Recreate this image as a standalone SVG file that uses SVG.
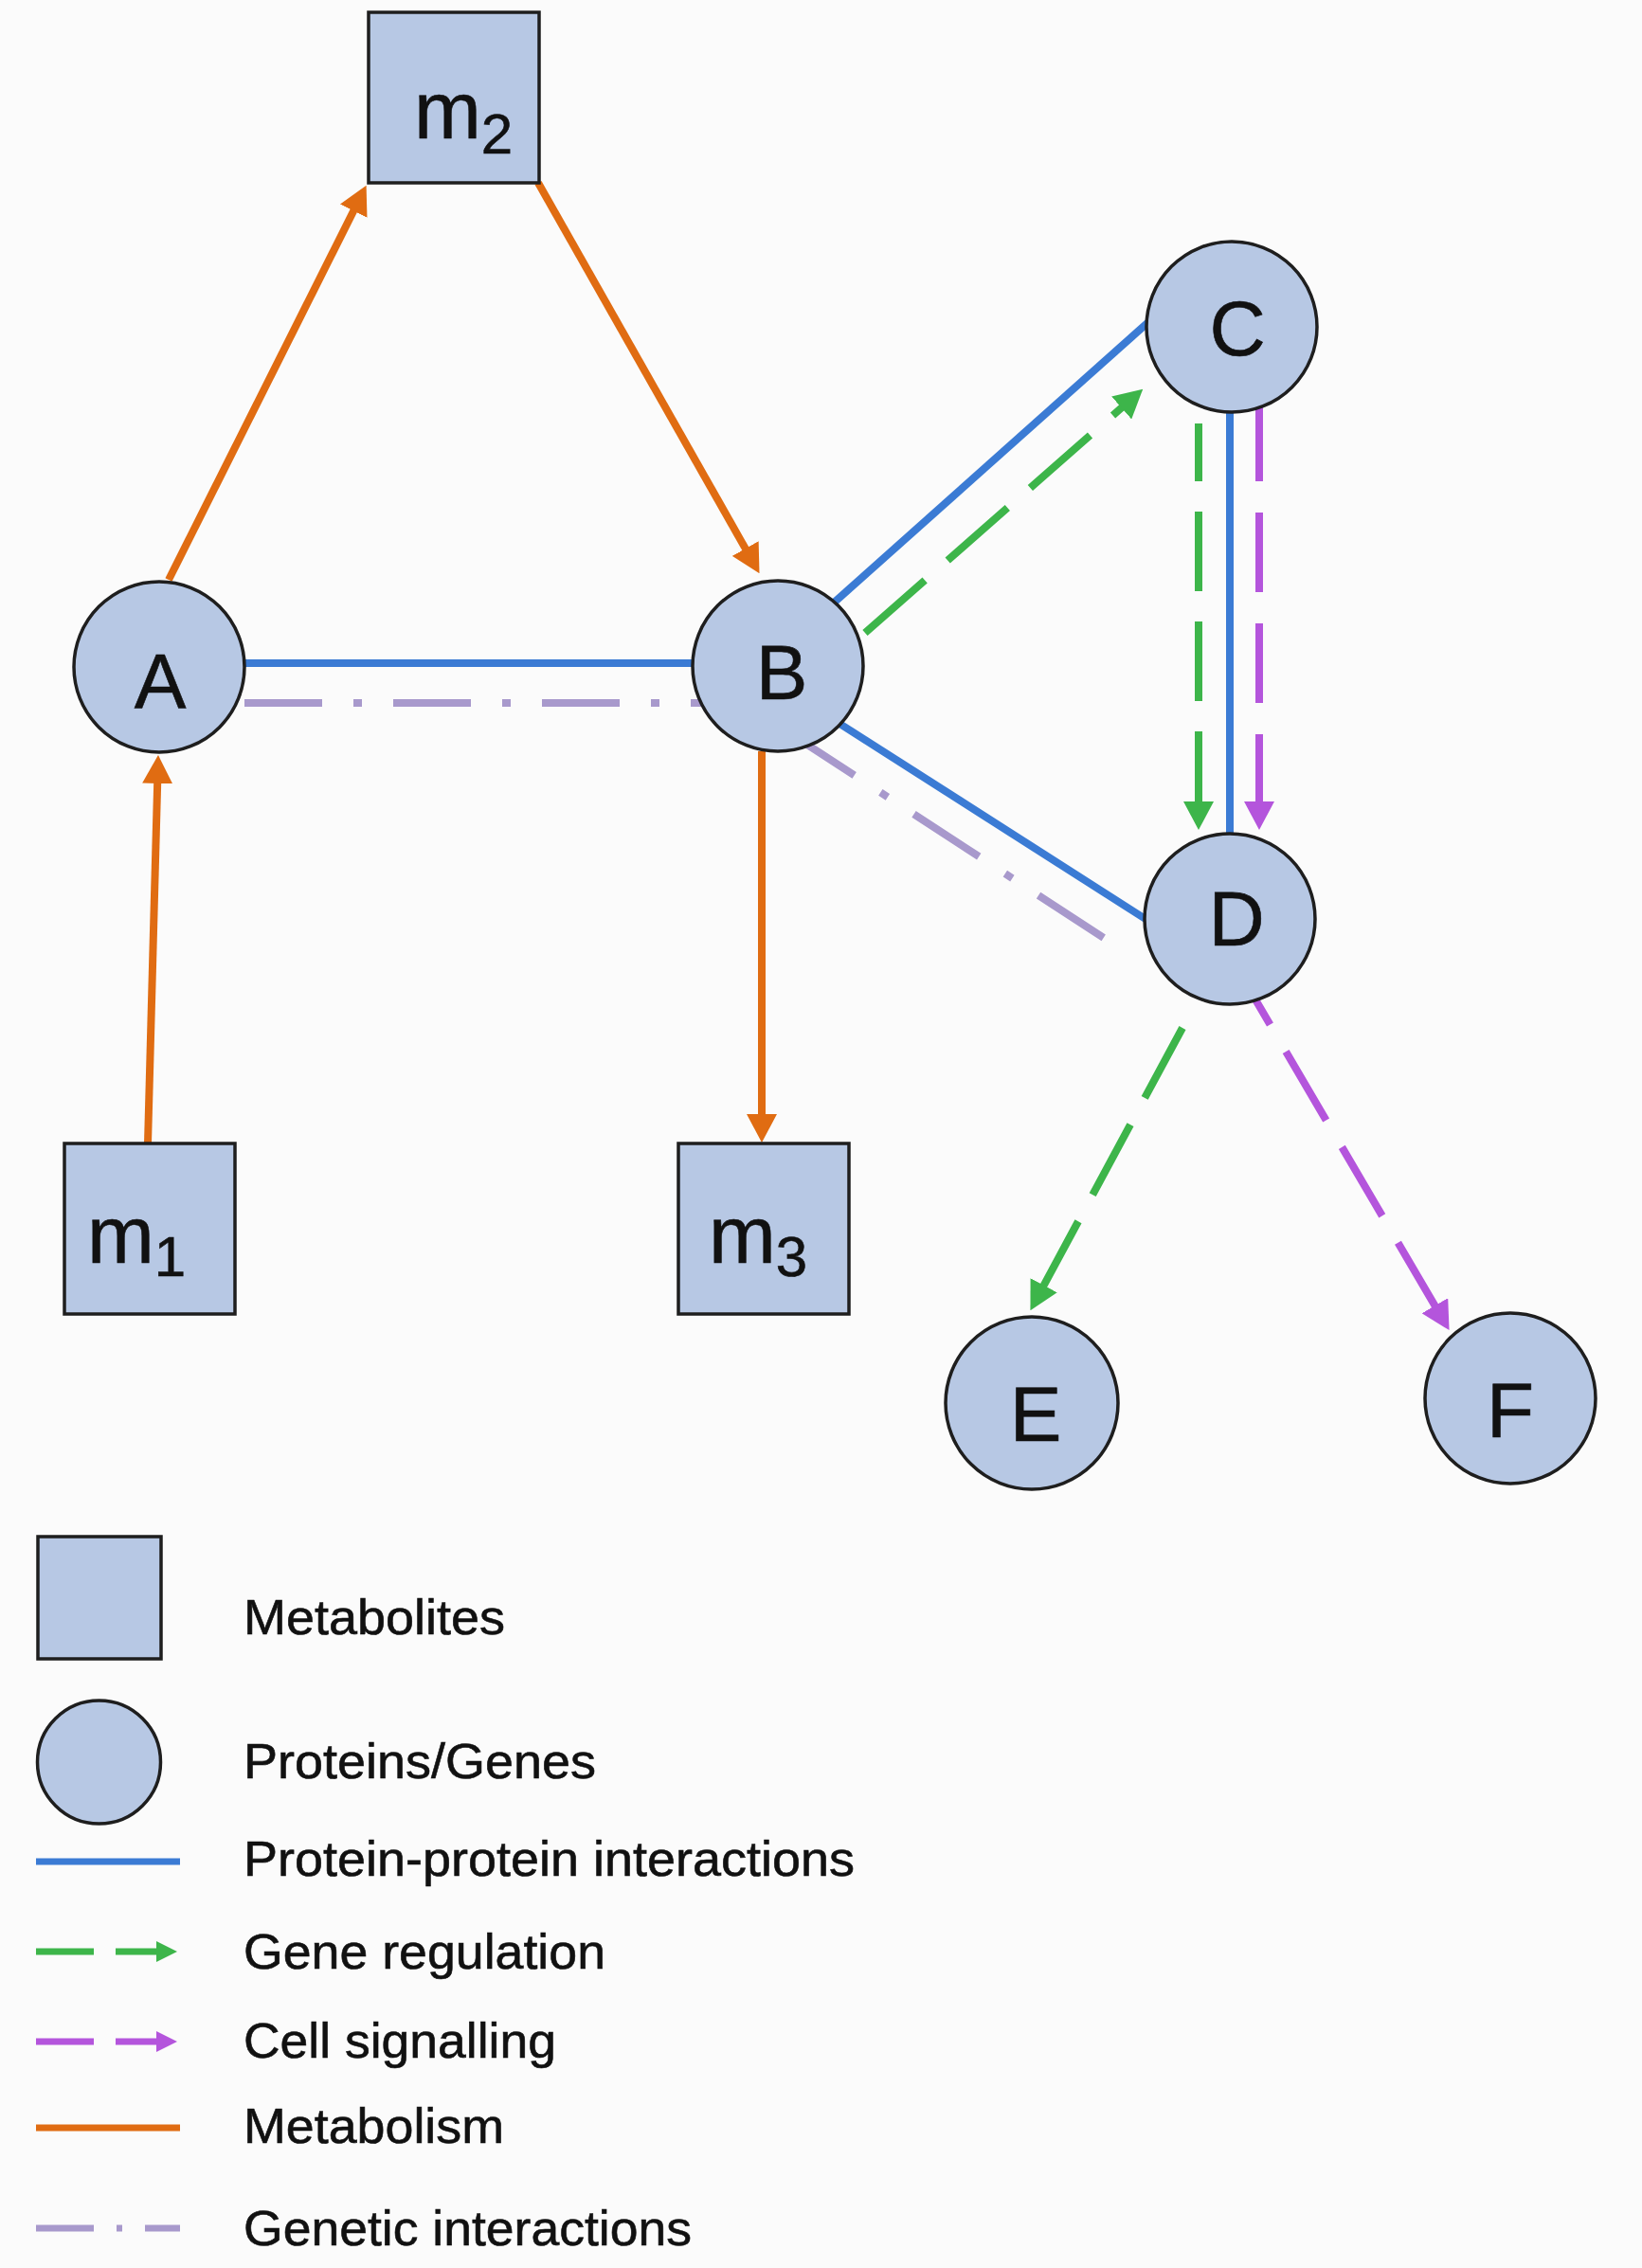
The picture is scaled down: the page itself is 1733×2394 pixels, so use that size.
<svg xmlns="http://www.w3.org/2000/svg" width="1733" height="2394" viewBox="0 0 1733 2394">
  <style>
    .node { fill: #b7c8e4; stroke: #1e1e1e; stroke-width: 3.5; }
    .lbl { font-family: "Liberation Sans", Arial, sans-serif; fill: #111; stroke: #111; stroke-width: 0.6; }
    .letter { font-size: 82px; text-anchor: middle; }
    .met { font-size: 85px; }
    .sub { font-size: 60px; }
    .leg { font-size: 52px; }
    .c { fill: none; stroke-width: 8; stroke-linecap: butt; }
    .ppi { stroke: #3b7bd4; }
    .metab { stroke: #e06c12; }
    .greg { stroke: #3db54a; stroke-dasharray: 84 32; }
    .sig { stroke: #b455dc; stroke-dasharray: 84 33; }
    .gen { stroke: #a899cc; stroke-dasharray: 82 33 9 33; }
    .lg { fill: none; stroke-width: 7; }
  </style>
  <defs>
    <marker id="ah-orange" markerUnits="userSpaceOnUse" viewBox="0 0 30 32" refX="1" refY="16" markerWidth="30" markerHeight="32" orient="auto">
      <path d="M0,0 L30,16 L0,32 z" fill="#e06c12"/>
    </marker>
    <marker id="ah-green" markerUnits="userSpaceOnUse" viewBox="0 0 30 32" refX="1" refY="16" markerWidth="30" markerHeight="32" orient="auto">
      <path d="M0,0 L30,16 L0,32 z" fill="#3db54a"/>
    </marker>
    <marker id="ah-purple" markerUnits="userSpaceOnUse" viewBox="0 0 30 32" refX="1" refY="16" markerWidth="30" markerHeight="32" orient="auto">
      <path d="M0,0 L30,16 L0,32 z" fill="#b455dc"/>
    </marker>
    <marker id="ah-green-s" markerUnits="userSpaceOnUse" viewBox="0 0 22 22" refX="1" refY="11" markerWidth="22" markerHeight="22" orient="auto">
      <path d="M0,0 L22,11 L0,22 z" fill="#3db54a"/>
    </marker>
    <marker id="ah-purple-s" markerUnits="userSpaceOnUse" viewBox="0 0 22 22" refX="1" refY="11" markerWidth="22" markerHeight="22" orient="auto">
      <path d="M0,0 L22,11 L0,22 z" fill="#b455dc"/>
    </marker>
  </defs>

  <rect x="0" y="0" width="1733" height="2394" fill="#fbfbfb"/>

  <!-- connectors -->
  <g id="connectors">
    <!-- protein-protein interactions -->
    <line class="c ppi" x1="168" y1="700" x2="821" y2="700"/>
    <line class="c ppi" x1="878" y1="638" x2="1212" y2="340"/>
    <line class="c ppi" x1="880" y1="760" x2="1212" y2="972"/>
    <line class="c ppi" x1="1298" y1="345" x2="1298" y2="970"/>
    <!-- genetic interactions -->
    <line class="c gen" x1="258" y1="742" x2="742" y2="742"/>
    <line class="c gen" x1="833" y1="773.6" x2="1168" y2="992"/>
    <!-- metabolism -->
    <line class="c metab" x1="178" y1="612" x2="373.6" y2="221.8" marker-end="url(#ah-orange)"/>
    <line class="c metab" x1="568" y1="193" x2="787.2" y2="579.9" marker-end="url(#ah-orange)"/>
    <line class="c metab" x1="156" y1="1207" x2="166.2" y2="826" marker-end="url(#ah-orange)"/>
    <line class="c metab" x1="804" y1="793" x2="804" y2="1177" marker-end="url(#ah-orange)"/>
    <!-- gene regulation -->
    <line class="c greg" x1="913" y1="668" x2="1184.4" y2="429.8" marker-end="url(#ah-green)"/>
    <line class="c greg" x1="1265" y1="447" x2="1265" y2="847" stroke-dasharray="86 30" stroke-dashoffset="23" marker-end="url(#ah-green)"/>
    <line class="c greg" x1="1248" y1="1085" x2="1101.2" y2="1357.6" marker-end="url(#ah-green)"/>
    <!-- cell signalling -->
    <line class="c sig" x1="1329" y1="430" x2="1329" y2="847" stroke-dasharray="86 30" stroke-dashoffset="6" marker-end="url(#ah-purple)"/>
    <line class="c sig" x1="1298" y1="1009" x2="1514.9" y2="1379.1" marker-end="url(#ah-purple)"/>
  </g>

  <!-- metabolites -->
  <g id="m2">
    <rect class="node" x="389" y="13" width="180" height="180"/>
    <text class="lbl met" x="437" y="146">m<tspan class="sub" dy="16">2</tspan></text>
  </g>
  <g id="m1">
    <rect class="node" x="68" y="1207" width="180" height="180"/>
    <text class="lbl met" x="92" y="1333">m<tspan class="sub" dy="14">1</tspan></text>
  </g>
  <g id="m3">
    <rect class="node" x="716" y="1207" width="180" height="180"/>
    <text class="lbl met" x="748" y="1333">m<tspan class="sub" dy="14">3</tspan></text>
  </g>

  <!-- proteins / genes -->
  <g id="A">
    <circle class="node" cx="168" cy="704" r="90"/>
    <text class="lbl letter" x="169" y="747">A</text>
  </g>
  <g id="B">
    <circle class="node" cx="821" cy="703" r="90"/>
    <text class="lbl letter" x="825" y="738">B</text>
  </g>
  <g id="C">
    <circle class="node" cx="1300" cy="345" r="90"/>
    <text class="lbl letter" x="1306" y="375">C</text>
  </g>
  <g id="D">
    <circle class="node" cx="1298" cy="970" r="90"/>
    <text class="lbl letter" x="1305" y="998">D</text>
  </g>
  <g id="E">
    <circle class="node" cx="1089" cy="1481" r="91"/>
    <text class="lbl letter" x="1093" y="1521">E</text>
  </g>
  <g id="F">
    <circle class="node" cx="1594" cy="1476" r="90"/>
    <text class="lbl letter" x="1594" y="1517">F</text>
  </g>

  <!-- legend -->
  <g id="legend">
    <rect class="node" x="40" y="1622" width="130" height="129"/>
    <circle class="node" cx="104.5" cy="1860" r="65"/>
    <line class="lg" stroke="#3b7bd4" x1="38" y1="1965" x2="190" y2="1965"/>
    <line class="lg" stroke="#3db54a" x1="38" y1="2060" x2="99" y2="2060"/>
    <line class="lg" stroke="#3db54a" x1="122" y1="2060" x2="166" y2="2060" marker-end="url(#ah-green-s)"/>
    <line class="lg" stroke="#b455dc" x1="38" y1="2155" x2="99" y2="2155"/>
    <line class="lg" stroke="#b455dc" x1="122" y1="2155" x2="166" y2="2155" marker-end="url(#ah-purple-s)"/>
    <line class="lg" stroke="#e06c12" x1="38" y1="2246" x2="190" y2="2246"/>
    <line class="lg" stroke="#a899cc" x1="38" y1="2352" x2="190" y2="2352" stroke-dasharray="61 24 6 24"/>
    <text class="lbl leg" x="257" y="1725" textLength="276" lengthAdjust="spacingAndGlyphs">Metabolites</text>
    <text class="lbl leg" x="257" y="1877" textLength="372" lengthAdjust="spacingAndGlyphs">Proteins/Genes</text>
    <text class="lbl leg" x="257" y="1980" textLength="645" lengthAdjust="spacingAndGlyphs">Protein-protein interactions</text>
    <text class="lbl leg" x="257" y="2078" textLength="382" lengthAdjust="spacingAndGlyphs">Gene regulation</text>
    <text class="lbl leg" x="257" y="2172" textLength="330" lengthAdjust="spacingAndGlyphs">Cell signalling</text>
    <text class="lbl leg" x="257" y="2262" textLength="275" lengthAdjust="spacingAndGlyphs">Metabolism</text>
    <text class="lbl leg" x="257" y="2370" textLength="473" lengthAdjust="spacingAndGlyphs">Genetic interactions</text>
  </g>
</svg>
